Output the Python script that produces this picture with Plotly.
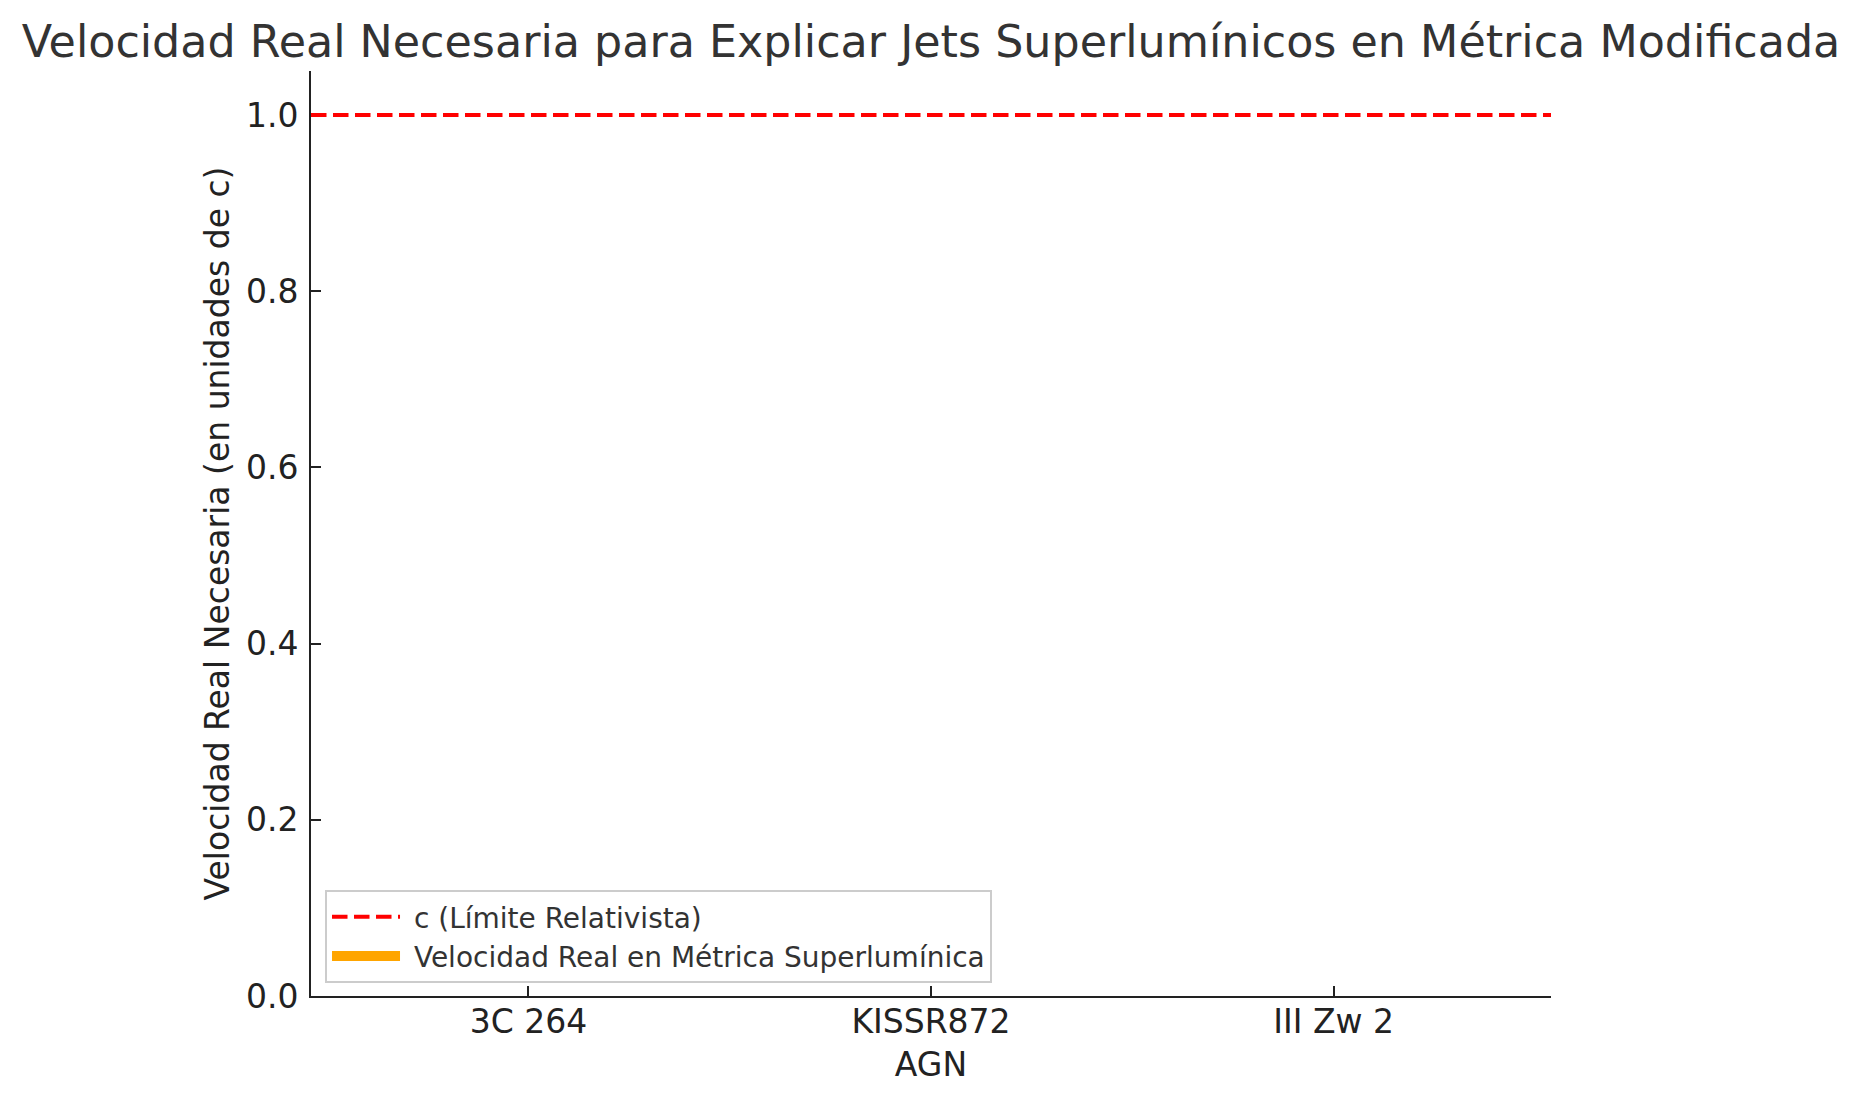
import plotly.graph_objects as go

# Data
agn = ["3C 264", "KISSR872", "III Zw 2"]
velocidad_real = [0.0, 0.0, 0.0]
c_limite = 1.0
y_ticks = [0.0, 0.2, 0.4, 0.6, 0.8, 1.0]

FONT = "DejaVu Sans"
W, H = 1854, 1095          # page body has an 8px margin
L, R, T, B = 303, 311, 63, 107
DASH = "15.5px,6.5px"
GAP = "\u00a0"

fig = go.Figure()

fig.add_trace(go.Bar(
    x=agn, y=velocidad_real, width=0.8,
    marker=dict(color="#FFA500", line=dict(width=0)),
    name="Velocidad Real en Métrica Superlumínica", showlegend=False,
))
# legend entries
fig.add_trace(go.Scatter(
    x=[None], y=[None], mode="lines",
    line=dict(color="#ff0000", width=4, dash=DASH),
    name=GAP + "c (Límite Relativista)",
))
fig.add_trace(go.Scatter(
    x=[None], y=[None], mode="lines",
    line=dict(color="#FFA500", width=19),
    name=GAP + "Velocidad Real en Métrica Superlumínica",
))

fig.add_shape(type="line", xref="paper", yref="y", x0=0, x1=1,
              y0=c_limite, y1=c_limite,
              line=dict(color="#ff0000", width=4, dash=DASH))

fig.update_layout(
    width=W, height=H,
    margin=dict(l=L, r=R, t=T, b=B, pad=0),
    paper_bgcolor="white", plot_bgcolor="white",
    font=dict(family=FONT, size=33, color="#222222"),
    title=dict(
        text="Velocidad Real Necesaria para Explicar Jets Superlumínicos en Métrica Modificada",
        font=dict(family=FONT, size=44.4, color="#333333"),
        x=(L + (W - L - R) / 2) / W, xanchor="center",
        y=1 - 33.6 / H, yanchor="middle", yref="container",
    ),
    showlegend=True,
    legend=dict(
        x=0.0113, y=0.0141, xanchor="left", yanchor="bottom",
        bgcolor="white", bordercolor="#cccccc", borderwidth=2,
        font=dict(family=FONT, size=28, color="#333333"),
        traceorder="normal", itemwidth=68,
    ),
    bargap=0.2,
)

fig.update_xaxes(
    type="category", range=[-0.54, 2.54],
    showline=True, linecolor="#222222", linewidth=2, mirror=False,
    ticks="inside", ticklen=10, tickwidth=2, tickcolor="#222222",
    showgrid=False, zeroline=False, ticklabelstandoff=-5,
    tickfont=dict(family=FONT, size=33, color="#222222"),
    title=dict(text="AGN", font=dict(family=FONT, size=33, color="#222222"), standoff=13),
)
fig.update_yaxes(
    range=[0, 1.05], tickvals=y_ticks, ticktext=[f"{v:.1f}" for v in y_ticks],
    showline=True, linecolor="#222222", linewidth=2, mirror=False,
    ticks="inside", ticklen=10, tickwidth=2, tickcolor="#222222",
    showgrid=False, zeroline=False, ticklabelstandoff=4,
    tickfont=dict(family=FONT, size=33, color="#222222"),
    title=dict(text="Velocidad Real Necesaria (en unidades de c)",
               font=dict(family=FONT, size=33, color="#222222"), standoff=6),
)

fig.write_html("out.html")
